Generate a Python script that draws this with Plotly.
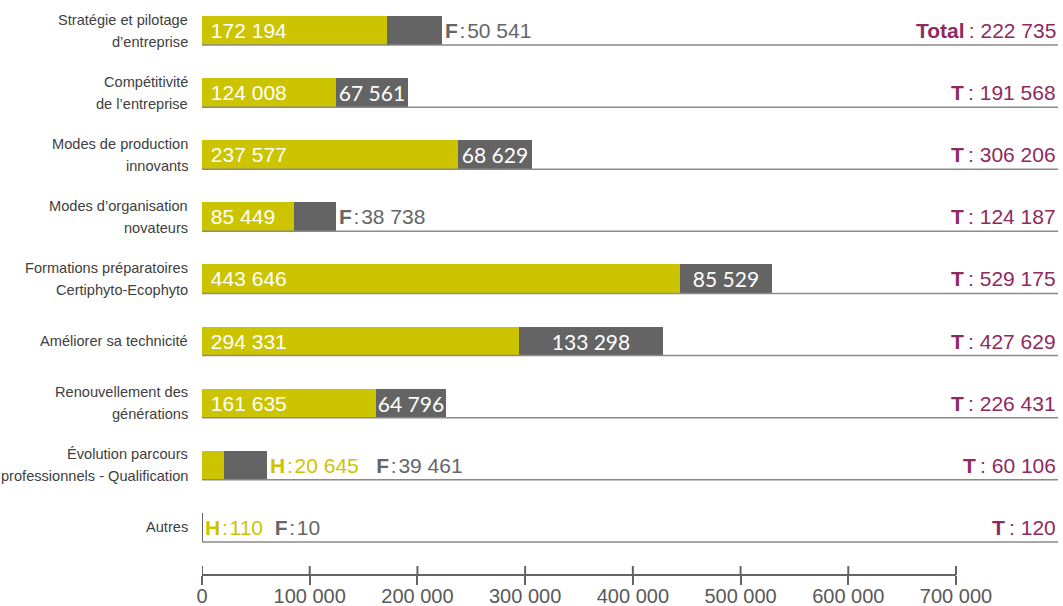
import plotly.graph_objects as go

categories = [
    "Stratégie et pilotage\nd’entreprise",
    "Compétitivité\nde l’entreprise",
    "Modes de production\ninnovants",
    "Modes d’organisation\nnovateurs",
    "Formations préparatoires\nCertiphyto-Ecophyto",
    "Améliorer sa technicité",
    "Renouvellement des\ngénérations",
    "Évolution parcours\nprofessionnels - Qualification",
    "Autres",
]
hommes = [172194, 124008, 237577, 85449, 443646, 294331, 161635, 20645, 110]
femmes = [50541, 67561, 68629, 38738, 85529, 133298, 64796, 39461, 10]
totaux = [222735, 191568, 306206, 124187, 529175, 427629, 226431, 60106, 120]
tick_values = [0, 100000, 200000, 300000, 400000, 500000, 600000, 700000]

YELLOW = "#CCC400"
GRAY = "#646464"
PURPLE = "#8E2A5E"
LABEL = "#404040"
TXTGRAY = "#666666"
ARIAL = "Arial, 'Liberation Sans', sans-serif"


def fmt(v):
    return f"{v:,}".replace(",", " ")


n = len(categories)
ys = list(range(n))
bar_w = 0.467

outside_f = [True, False, False, True, False, False, False, True, True]
outside_h = [False] * 7 + [True, True]
gap_hf = {7: "\u00a0\u00a0\u00a0", 8: "\u00a0\u00a0"}

h_text = ["" if outside_h[i] else "\u00a0" + fmt(hommes[i]) for i in range(n)]
f_text = []
f_pos = []
for i in range(n):
    if outside_h[i]:
        f_text.append(
            f"<span style='color:{YELLOW}'><b>H</b>\u200a:\u200a{fmt(hommes[i])}</span>"
            f"{gap_hf[i]}<b>F</b>\u200a:\u200a{fmt(femmes[i])}"
        )
        f_pos.append("outside")
    elif outside_f[i]:
        f_text.append(f"<b>F</b>\u200a:\u200a{fmt(femmes[i])}")
        f_pos.append("outside")
    else:
        f_text.append(fmt(femmes[i]))
        f_pos.append("inside")

fig = go.Figure()
fig.add_trace(go.Bar(
    y=ys, x=hommes, orientation="h", width=bar_w,
    marker=dict(color=YELLOW, line=dict(width=0)),
    text=h_text, textposition="inside", insidetextanchor="start",
    insidetextfont=dict(family=ARIAL, size=21, color="white"),
    constraintext="none", cliponaxis=False, hoverinfo="skip",
))
fig.add_trace(go.Bar(
    y=ys, x=femmes, orientation="h", width=bar_w,
    marker=dict(color=GRAY, line=dict(width=[0] * (n - 1) + [2], color=GRAY)),
    text=f_text, textposition=f_pos, insidetextanchor="middle",
    insidetextfont=dict(family="Lato", size=21, color="white"),
    outsidetextfont=dict(family=ARIAL, size=21, color=TXTGRAY),
    constraintext="none", cliponaxis=False, hoverinfo="skip",
))

shapes = []
for i in ys:
    shapes.append(dict(type="line", xref="paper", x0=0, x1=1, yref="y",
                       y0=i + bar_w / 2, y1=i + bar_w / 2,
                       line=dict(color="#8a8a8a", width=1.5), layer="above"))
shapes.append(dict(type="line", xref="x", x0=tick_values[0], x1=tick_values[-1],
                   yref="paper", y0=0, y1=0, line=dict(color=GRAY, width=2)))
for t in tick_values:
    shapes.append(dict(type="line", xref="x", x0=t, x1=t, yref="paper",
                       y0=0, y1=9 / 575, line=dict(color=GRAY, width=2)))

annotations = []
for i, cat in enumerate(categories):
    lines = cat.split("\n")
    offs = [0] if len(lines) == 1 else [11, -11]
    for line, off in zip(lines, offs):
        annotations.append(dict(
            xref="paper", x=0, xanchor="right", xshift=-12,
            yref="y", y=i, yanchor="middle", yshift=off,
            text=line, showarrow=False,
            font=dict(family=ARIAL, size=14.6, color=LABEL)))
    label = "Total" if i == 0 else "T"
    annotations.append(dict(
        xref="paper", x=1, xanchor="right", yref="y", y=i, yanchor="middle",
        text=f"<b>{label}</b>\u2009: {fmt(totaux[i])}", showarrow=False,
        font=dict(family=ARIAL, size=21, color=PURPLE)))

fig.update_layout(
    width=1063, height=606,
    margin=dict(l=202, r=5, t=0, b=31),
    barmode="stack", bargap=0,
    showlegend=False,
    font=dict(family=ARIAL),
    plot_bgcolor="white", paper_bgcolor="white",
    shapes=shapes, annotations=annotations,
    xaxis=dict(range=[0, 794700], tickvals=tick_values,
               ticktext=[fmt(t) for t in tick_values],
               ticks="outside", ticklen=9, tickwidth=2, tickcolor=GRAY,
               ticklabelstandoff=-6,
               tickfont=dict(family=ARIAL, size=20, color="#595959"),
               showline=False, showgrid=False, zeroline=False, automargin=False),
    yaxis=dict(range=[8.765, -0.491], showticklabels=False, showgrid=False,
               zeroline=False, showline=False, automargin=False),
)

fig.write_html("out.html", config={"displayModeBar": False},
               post_script="document.body.style.margin='0';document.body.style.overflow='hidden';")
